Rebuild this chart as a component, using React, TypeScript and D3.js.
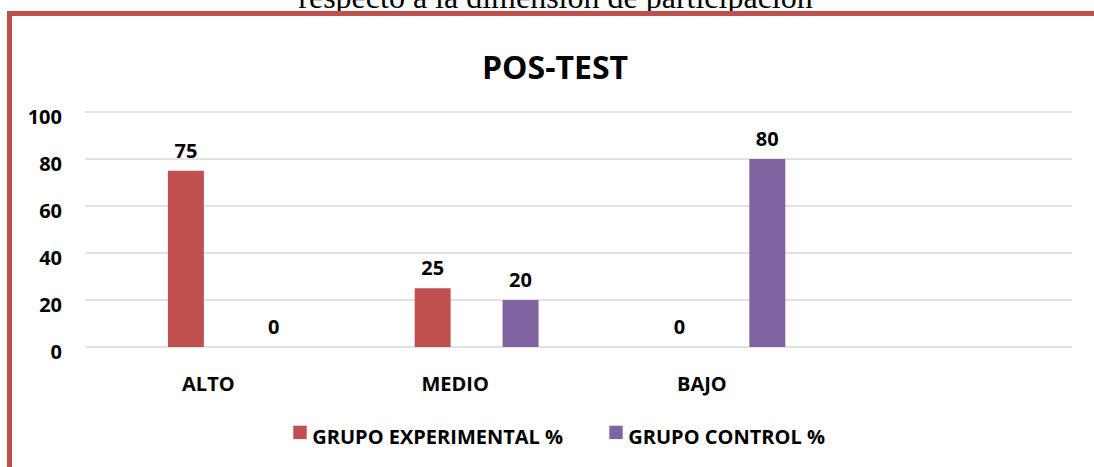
import React, { useEffect, useRef } from "react";
import * as d3 from "d3";

const categories = ["ALTO", "MEDIO", "BAJO", ""];
const seriesNames = ["GRUPO EXPERIMENTAL %", "GRUPO CONTROL %"];
const experimental = [75, 25, 0, null];
const control = [0, 20, 80, null];
const yTicks = [0, 20, 40, 60, 80, 100];
const colors = ["#C0504D", "#8064A2"];
const chartTitle = "POS-TEST";
const caption = "respecto a la dimensión de participación";

const W = 1094;
const H = 467;
const FONT = "'Open Sans', sans-serif";

export default function App() {
  const ref = useRef<SVGSVGElement>(null);

  useEffect(() => {
    const svg = d3.select(ref.current);
    svg.selectAll("*").remove();

    const x0 = d3.scaleBand<string>().domain(categories).range([85, 1072]).padding(0);
    const bw = x0.bandwidth();
    const x1 = d3
      .scaleBand<string>()
      .domain(seriesNames)
      .range([(83 / 247) * bw, (207 / 247) * bw])
      .paddingInner(0.591)
      .paddingOuter(0);
    const y = d3.scaleLinear().domain([0, 100]).range([347, 112]);

    // caption (clipped document text)
    svg
      .append("text")
      .attr("x", 555.5)
      .attr("y", 7.5)
      .attr("text-anchor", "middle")
      .attr("font-family", "'Liberation Serif', serif")
      .attr("font-size", 32)
      .attr("fill", "#000")
      .text(caption);

    // border
    svg
      .append("rect")
      .attr("x", 9.5)
      .attr("y", 13.5)
      .attr("width", 1200)
      .attr("height", 600)
      .attr("fill", "none")
      .attr("stroke", "#C0504D")
      .attr("stroke-width", 5);

    // title
    svg
      .append("text")
      .attr("x", 555)
      .attr("y", 79)
      .attr("text-anchor", "middle")
      .attr("font-family", FONT)
      .attr("font-weight", 700)
      .attr("font-size", 32)
      .attr("fill", "#000")
      .text(chartTitle);

    // gridlines
    svg
      .append("g")
      .selectAll("line")
      .data(yTicks)
      .join("line")
      .attr("x1", 85)
      .attr("x2", 1072)
      .attr("y1", (d) => y(d))
      .attr("y2", (d) => y(d))
      .attr("stroke", "#d9d9d9")
      .attr("stroke-width", 1.5);

    // y tick labels
    svg
      .append("g")
      .selectAll("text")
      .data(yTicks)
      .join("text")
      .attr("x", 62)
      .attr("y", (d) => y(d) + 12)
      .attr("text-anchor", "end")
      .attr("font-family", FONT)
      .attr("font-weight", 700)
      .attr("font-size", 20)
      .attr("fill", "#000")
      .text((d) => String(d));

    // category labels
    svg
      .append("g")
      .selectAll("text")
      .data(categories)
      .join("text")
      .attr("x", (d) => (x0(d) as number) + bw / 2)
      .attr("y", 391)
      .attr("text-anchor", "middle")
      .attr("font-family", FONT)
      .attr("font-weight", 700)
      .attr("font-size", 20)
      .attr("fill", "#000")
      .text((d) => d);

    const seriesData = [experimental, control];
    seriesData.forEach((vals, si) => {
      const name = seriesNames[si];
      const pts = categories
        .map((c, i) => ({ c, v: vals[i] }))
        .filter((p) => p.v !== null) as { c: string; v: number }[];
      const g = svg.append("g");
      g.selectAll("rect")
        .data(pts)
        .join("rect")
        .attr("x", (d) => (x0(d.c) as number) + (x1(name) as number))
        .attr("y", (d) => y(d.v))
        .attr("width", x1.bandwidth())
        .attr("height", (d) => y(0) - y(d.v))
        .attr("fill", colors[si]);
      g.selectAll("text")
        .data(pts)
        .join("text")
        .attr("x", (d) => (x0(d.c) as number) + (x1(name) as number) + x1.bandwidth() / 2)
        .attr("y", (d) => y(d.v) - 13)
        .attr("text-anchor", "middle")
        .attr("font-family", FONT)
        .attr("font-weight", 700)
        .attr("font-size", 20)
        .attr("fill", "#000")
        .text((d) => String(d.v));
    });

    // legend
    const legendX = [293.3, 609.3];
    const lg = svg.append("g");
    seriesNames.forEach((n, i) => {
      lg.append("rect")
        .attr("x", legendX[i])
        .attr("y", 425.7)
        .attr("width", 13.4)
        .attr("height", 13.4)
        .attr("fill", colors[i]);
      lg.append("text")
        .attr("x", legendX[i] + 19)
        .attr("y", 444)
        .attr("font-family", FONT)
        .attr("font-weight", 700)
        .attr("font-size", 20)
        .attr("fill", "#000")
        .text(n);
    });
  }, []);

  return (
    <svg
      ref={ref}
      width={W}
      height={H}
      style={{ position: "absolute", left: 0, top: 0, background: "#fff" }}
    />
  );
}
